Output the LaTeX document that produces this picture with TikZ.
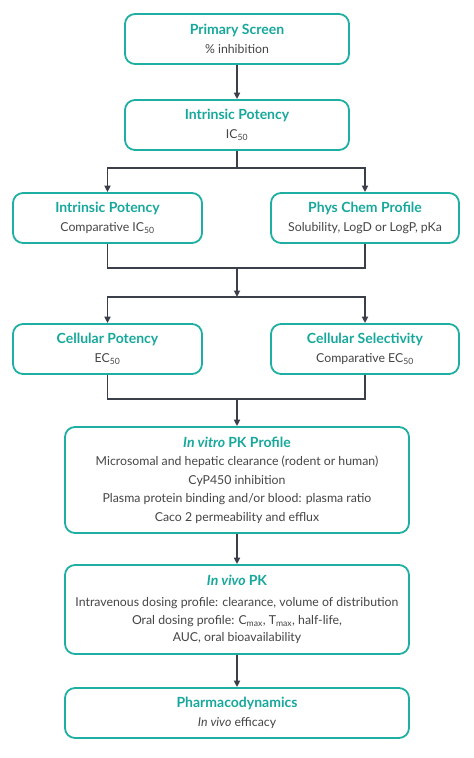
\documentclass[tikz,border=0pt]{standalone}
\usepackage{fontspec}
\setmainfont{Lato}
\usetikzlibrary{arrows.meta}
\definecolor{teal1}{HTML}{1FAFA2}
\definecolor{tealtxt}{HTML}{17A89C}
\definecolor{arrowc}{HTML}{3A3F4A}
\definecolor{bodyc}{HTML}{454545}
\newcommand{\ttl}[1]{{\fontsize{14}{18}\selectfont\bfseries\color{tealtxt}#1}}
\newcommand{\sub}[1]{\textsubscript{#1}}
\begin{document}
\begin{tikzpicture}[x=1pt,y=-1pt,
  box/.style={draw=teal1,line width=1.8pt,rounded corners=10pt,fill=white,
    align=center,inner sep=2pt,text=bodyc,font=\fontsize{12.3}{18.5}\selectfont},
  conn/.style={draw=arrowc,line width=1.6pt},
  arr/.style={conn,-{Triangle[length=6.5pt,width=6pt]}}]
\useasboundingbox (0,0) rectangle (474,758);
\node[box,minimum width=224pt,minimum height=50pt] (ps) at (237,39) {\ttl{Primary Screen}\\\% inhibition};
\node[box,minimum width=224pt,minimum height=50pt] (ip) at (237,125) {\ttl{Intrinsic Potency}\\IC\sub{50}};
\node[box,minimum width=189pt,minimum height=50pt] (ipc) at (107.5,218) {\ttl{Intrinsic Potency}\\Comparative IC\sub{50}};
\node[box,minimum width=188pt,minimum height=50pt] (pc) at (365,218) {\ttl{Phys Chem Profile}\\Solubility, LogD or LogP, pKa};
\node[box,minimum width=189pt,minimum height=50pt] (cp) at (107.5,349) {\ttl{Cellular Potency}\\EC\sub{50}};
\node[box,minimum width=188pt,minimum height=50pt] (cs) at (365,349) {\ttl{Cellular Selectivity}\\Comparative EC\sub{50}};
\node[box,minimum width=344pt,minimum height=106pt] (iv) at (237,480) {\ttl{\itshape In vitro\/ \upshape PK Profile}\\Microsomal and hepatic clearance (rodent or human)\\CyP450 inhibition\\Plasma protein binding and/or blood: plasma ratio\\Caco 2 permeability and efflux};
\node[box,minimum width=344pt,minimum height=89pt] (ivv) at (237,609.5) {\ttl{\itshape In vivo\/ \upshape PK}\\[2pt]Intravenous dosing profile: clearance, volume of distribution\\Oral dosing profile: C\sub{max}, T\sub{max}, half-life,\\[-2pt]AUC, oral bioavailability};
\node[box,minimum width=344pt,minimum height=50pt] (pd) at (237,713) {\ttl{Pharmacodynamics}\\\textit{In vivo} efficacy};
\coordinate (j1) at (237,168);
\coordinate (j2) at (237,268);
\coordinate (j3) at (237,297);
\coordinate (j4) at (237,399);
\draw[arr] (ps) -- (ip);
\draw[conn] (ip.south) -- (j1);
\draw[arr] (j1) -| (ipc.north);
\draw[arr] (j1) -| (pc.north);
\draw[conn] (ipc.south) |- (j2);
\draw[conn] (pc.south) |- (j2);
\draw[arr] (j2) -- (j3);
\draw[arr] (j3) -| (cp.north);
\draw[arr] (j3) -| (cs.north);
\draw[conn] (cp.south) |- (j4);
\draw[conn] (cs.south) |- (j4);
\draw[arr] (j4) -- (iv.north);
\draw[arr] (iv) -- (ivv);
\draw[arr] (ivv) -- (pd);
\end{tikzpicture}
\end{document}
